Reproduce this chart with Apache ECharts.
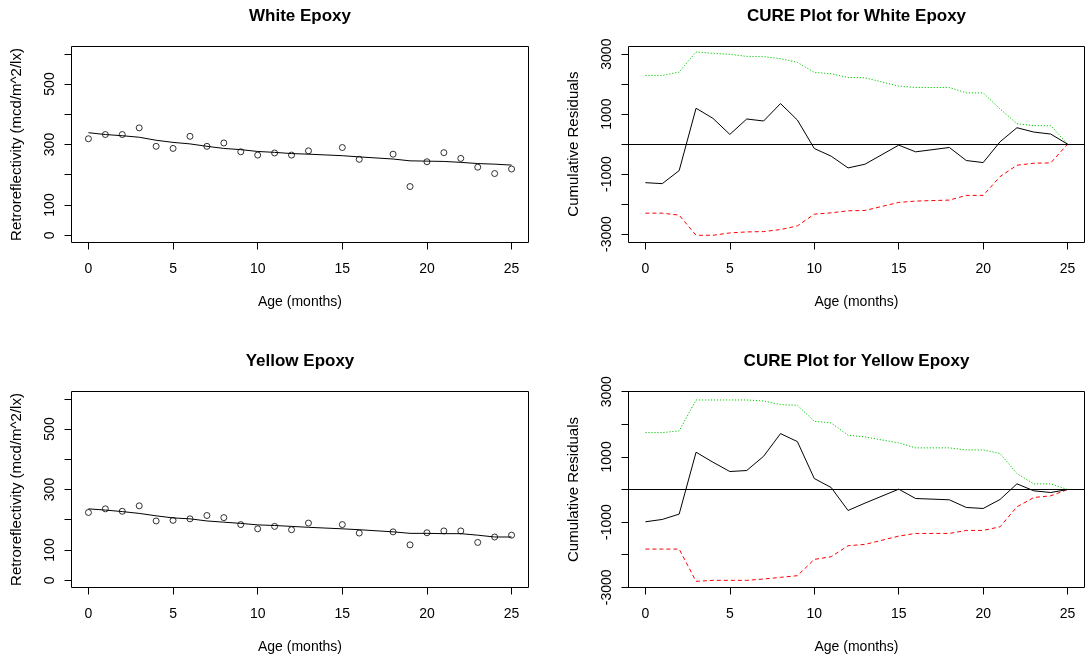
<!DOCTYPE html>
<html><head><meta charset="utf-8">
<script src="https://cdn.jsdelivr.net/npm/echarts@6/dist/echarts.min.js"></script>
<style>html,body{margin:0;padding:0;background:#fff}#c{width:1087px;height:660px}</style>
</head><body><div id="c"></div>
<script>
// ---- data ----
const months = [0,1,2,3,4,5,6,7,8,9,10,11,12,13,15,16,18,19,20,21,22,23,24,25];
const whiteObs = [319,333,333,355,294,287,327,294,305,276,265,272,265,279,290,251,268,161,243,273,254,225,204,219];
const whiteFit = [339,333,329,324,314,307,302,294,287,283,277,274,270,268,263,259,252,246,245,244,241,237,235,232];
const yellowObs = [224,236,228,246,196,198,203,214,207,184,170,178,167,189,184,156,160,117,157,163,163,125,143,149];
const yellowFit = [236,232,227,221,213,206,203,196,192,188,183,181,178,175,170,167,160,155,155,154,154,149,143,143];
const whiteCure = [-1285,-1318,-883,1196,860,324,838,771,1352,804,-145,-402,-793,-670,-34,-257,-112,-547,-615,78,547,402,335,0];
const whiteUpper = [2291,2291,2402,3073,3028,2994,2927,2916,2849,2726,2391,2346,2223,2212,1933,1888,1888,1709,1709,1173,682,615,615,0];
const whiteLower = [-2302,-2302,-2369,-3039,-3039,-2961,-2927,-2916,-2849,-2726,-2335,-2291,-2223,-2212,-1944,-1899,-1866,-1709,-1709,-1084,-704,-637,-626,0];
const yellowCure = [-990,-918,-755,1143,837,551,582,1020,1714,1469,337,61,-643,-418,10,-276,-316,-551,-582,-306,173,-41,-92,0];
const yellowUpper = [1745,1745,1796,2745,2745,2745,2745,2714,2602,2582,2092,2041,1663,1612,1429,1276,1276,1214,1214,1102,490,173,173,0];
const yellowLower = [-1827,-1827,-1827,-2816,-2786,-2786,-2786,-2745,-2694,-2643,-2143,-2061,-1724,-1684,-1429,-1347,-1347,-1255,-1255,-1143,-531,-245,-194,0];
const xTickLabels = [0,5,10,15,20,25];
const retroTickLabels = [0,100,300,500];
const cureTickLabels = [-3000,-1000,1000,3000];
const titles = ['White Epoxy','CURE Plot for White Epoxy','Yellow Epoxy','CURE Plot for Yellow Epoxy'];
const xName = 'Age (months)';
const retroName = 'Retroreflectivity (mcd/m^2/lx)';
const cureName = 'Cumulative Residuals';

// ---- layout ----
const FONT = '"Liberation Sans", Arial, Helvetica, sans-serif';
const panels = [
  {box:[71.5,46.5,457,196], xr:[-1,26], yr:[-24,624], yt:[0,600,100], kind:'obs', obs:whiteObs, fit:whiteFit, yName:retroName, labels:retroTickLabels, title:titles[0]},
  {box:[628.5,46.5,456,196], xr:[-1,26], yr:[-3280,3255], yt:[-3000,3000,1000], kind:'cure', cure:whiteCure, up:whiteUpper, lo:whiteLower, yName:cureName, labels:cureTickLabels, title:titles[1]},
  {box:[71.5,391.5,457,196], xr:[-1,26], yr:[-24,624], yt:[0,600,100], kind:'obs', obs:yellowObs, fit:yellowFit, yName:retroName, labels:retroTickLabels, title:titles[2]},
  {box:[628.5,391.5,456,196], xr:[-1,26], yr:[-3005,3005], yt:[-3000,3000,1000], kind:'cure', cure:yellowCure, up:yellowUpper, lo:yellowLower, yName:cureName, labels:cureTickLabels, title:titles[3]}
];

const grid = [], xAxis = [], yAxis = [], series = [], graphic = [];
const xt = [0,25,5];
panels.forEach((p, i) => {
  const [l,t,w,h] = p.box;
  const xs = p.xr[1]-p.xr[0], ys = p.yr[1]-p.yr[0];
  const tl = l + (xt[0]-p.xr[0])/xs*w;
  const tw = (xt[1]-xt[0])/xs*w;
  const tt = t + (p.yr[1]-p.yt[1])/ys*h;
  const th = (p.yt[1]-p.yt[0])/ys*h;
  const bi = 2*i, ti = 2*i+1;
  grid.push({left:l, top:t, width:w, height:h, show:true, borderColor:'#000', borderWidth:1, backgroundColor:'transparent'});
  grid.push({left:tl, top:tt, width:tw, height:th, show:false});
  xAxis.push({gridIndex:bi, type:'value', min:p.xr[0], max:p.xr[1], show:false});
  yAxis.push({gridIndex:bi, type:'value', min:p.yr[0], max:p.yr[1], show:false});
  xAxis.push({gridIndex:ti, type:'value', min:xt[0], max:xt[1], interval:xt[2], position:'bottom',
    offset:(t+h)-(tt+th),
    axisLine:{show:true, onZero:false, lineStyle:{color:'#000', width:1}},
    axisTick:{show:true, length:7, lineStyle:{color:'#000', width:1}},
    axisLabel:{margin:20, color:'#000', fontFamily:FONT, fontSize:14,
      formatter:v => xTickLabels.includes(v) ? String(v) : ''},
    splitLine:{show:false},
    name:xName, nameLocation:'middle', nameGap:53,
    nameTextStyle:{color:'#000', fontFamily:FONT, fontSize:14}});
  yAxis.push({gridIndex:ti, type:'value', min:p.yt[0], max:p.yt[1], interval:p.yt[2], position:'left',
    offset:tl-l,
    axisLine:{show:true, onZero:false, lineStyle:{color:'#000', width:1}},
    axisTick:{show:true, length:7, lineStyle:{color:'#000', width:1}},
    axisLabel:{rotate:90, margin:14, color:'#000', fontFamily:FONT, fontSize:14,
      formatter:v => p.labels.includes(v) ? String(v) : ''},
    splitLine:{show:false},
    name:p.yName, nameLocation:'middle', nameGap:47,
    nameTextStyle:{color:'#000', fontFamily:FONT, fontSize:15}});
  graphic.push({type:'text', x:l+w/2, y:t-30, silent:true,
    style:{text:p.title, font:'bold 17px ' + FONT, fill:'#000', align:'center', verticalAlign:'middle'}});
  if (p.kind === 'obs') {
    series.push({type:'scatter', xAxisIndex:bi, yAxisIndex:bi, symbol:'circle', symbolSize:6,
      itemStyle:{color:'rgba(0,0,0,0)', borderColor:'#000', borderWidth:1},
      data:months.map((m,j)=>[m, p.obs[j]]), z:2});
    series.push({type:'line', xAxisIndex:bi, yAxisIndex:bi, showSymbol:false, symbol:'none',
      lineStyle:{color:'#000', width:1}, data:months.map((m,j)=>[m, p.fit[j]]), z:3});
  } else {
    series.push({type:'line', xAxisIndex:bi, yAxisIndex:bi, showSymbol:false, symbol:'none',
      lineStyle:{color:'#00CD00', width:1, type:[1.2,1.8]}, data:months.map((m,j)=>[m, p.up[j]]), z:2});
    series.push({type:'line', xAxisIndex:bi, yAxisIndex:bi, showSymbol:false, symbol:'none',
      lineStyle:{color:'#FF0000', width:1, type:[4,3]}, data:months.map((m,j)=>[m, p.lo[j]]), z:2});
    series.push({type:'line', xAxisIndex:bi, yAxisIndex:bi, showSymbol:false, symbol:'none',
      lineStyle:{color:'#000', width:1}, data:months.map((m,j)=>[m, p.cure[j]]), z:3,
      markLine:{silent:true, symbol:['none','none'], label:{show:false},
        lineStyle:{color:'#000', width:1, type:'solid'}, data:[{yAxis:0}]}});
  }
});

const chart = echarts.init(document.getElementById('c'), null, {renderer:'canvas'});
chart.setOption({animation:false, backgroundColor:'#fff', grid, xAxis, yAxis, series, graphic});
</script></body></html>
